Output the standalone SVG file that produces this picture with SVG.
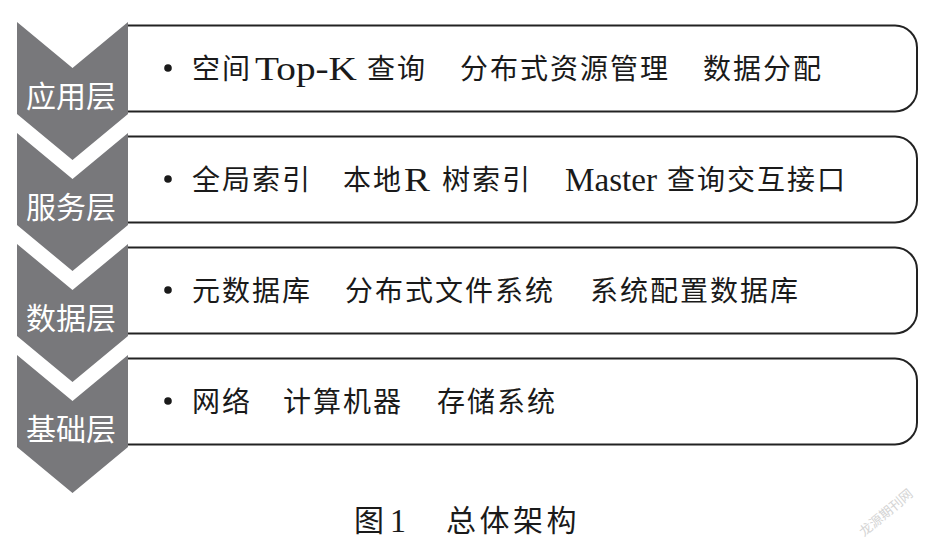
<svg xmlns="http://www.w3.org/2000/svg" width="930" height="547" viewBox="0 0 930 547">
  <style>
    .box { fill: #ffffff; stroke: #222222; stroke-width: 2; }
    .chev { fill: #78787b; stroke: none; }
    .lbl { font-family: "Noto Sans CJK SC", "Noto Sans", sans-serif; font-size: 30px; fill: #ffffff; text-anchor: middle; }
    .t { font-family: "Liberation Serif", "Noto Sans CJK SC", serif; font-size: 28px; letter-spacing: 2px; fill: #1a1a1a; }
    .lat { font-family: "Liberation Serif", serif; font-size: 33px; fill: #1a1a1a; }
    .dot { fill: #1a1a1a; }
    .cap { font-family: "Liberation Serif", "Noto Sans CJK SC", serif; font-size: 30px; letter-spacing: 3.5px; fill: #1a1a1a; }
    .wm { font-family: "Noto Sans CJK SC", sans-serif; font-size: 13px; fill: #d4d4d4; }
  </style>
  <rect width="930" height="547" fill="#ffffff"/>

  <g id="layer-app">
    <path class="box" d="M128,25.5 H895 A22,22 0 0 1 917,47.5 V89.5 A22,22 0 0 1 895,111.5 H128"/>
    <path class="chev" d="M17,22 L72.5,68 L128,22 L128,114 L72.5,160 L17,114 Z"/>
    <text class="lbl" x="71" y="107">应用层</text>
    <circle class="dot" cx="168" cy="68" r="3.8"/>
    <text class="t" x="192" y="79">空间</text>
    <text class="lat" x="255" y="80" textLength="102" lengthAdjust="spacingAndGlyphs">Top-K</text>
    <text class="t" x="367" y="79">查询</text>
    <text class="t" x="460" y="79">分布式资源管理</text>
    <text class="t" x="703" y="79">数据分配</text>
  </g>

  <g id="layer-service">
    <path class="box" d="M128,136.5 H895 A22,22 0 0 1 917,158.5 V200.5 A22,22 0 0 1 895,222.5 H128"/>
    <path class="chev" d="M17,133 L72.5,179 L128,133 L128,225 L72.5,271 L17,225 Z"/>
    <text class="lbl" x="71" y="218">服务层</text>
    <circle class="dot" cx="168" cy="179" r="3.8"/>
    <text class="t" x="192" y="190">全局索引</text>
    <text class="t" x="343" y="190">本地</text>
    <text class="lat" x="404" y="191" textLength="26" lengthAdjust="spacingAndGlyphs">R</text>
    <text class="t" x="442" y="190">树索引</text>
    <text class="lat" x="565" y="191" textLength="92" lengthAdjust="spacingAndGlyphs">Master</text>
    <text class="t" x="667" y="190">查询交互接口</text>
  </g>

  <g id="layer-data">
    <path class="box" d="M128,247.5 H895 A22,22 0 0 1 917,269.5 V311.5 A22,22 0 0 1 895,333.5 H128"/>
    <path class="chev" d="M17,244 L72.5,290 L128,244 L128,336 L72.5,382 L17,336 Z"/>
    <text class="lbl" x="71" y="329">数据层</text>
    <circle class="dot" cx="168" cy="290" r="3.8"/>
    <text class="t" x="192" y="301">元数据库</text>
    <text class="t" x="345" y="301">分布式文件系统</text>
    <text class="t" x="590" y="301">系统配置数据库</text>
  </g>

  <g id="layer-base">
    <path class="box" d="M128,358.5 H895 A22,22 0 0 1 917,380.5 V422.5 A22,22 0 0 1 895,444.5 H128"/>
    <path class="chev" d="M17,355 L72.5,401 L128,355 L128,447 L72.5,493 L17,447 Z"/>
    <text class="lbl" x="71" y="440">基础层</text>
    <circle class="dot" cx="168" cy="401" r="3.8"/>
    <text class="t" x="192" y="412">网络</text>
    <text class="t" x="283" y="412">计算机器</text>
    <text class="t" x="437" y="412">存储系统</text>
  </g>

  <g id="connectors"></g>

  <g id="caption">
    <text class="cap" x="354" y="531">图</text>
    <text class="lat" x="390" y="532" textLength="16" lengthAdjust="spacingAndGlyphs">1</text>
    <text class="cap" x="446" y="531">总体架构</text>
  </g>
  <text class="wm" x="0" y="0" transform="translate(864,537) rotate(-40)">龙源期刊网</text>
</svg>
